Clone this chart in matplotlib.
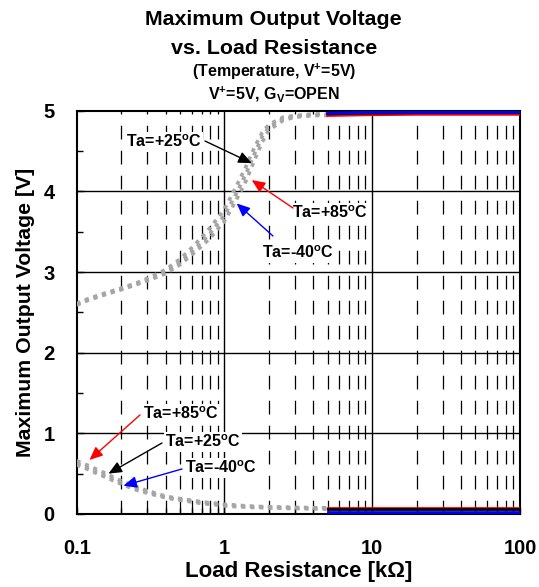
import matplotlib
matplotlib.use("Agg")
import matplotlib.pyplot as plt
from matplotlib.ticker import FixedLocator, NullFormatter

plt.rcParams['font.family'] = ['Liberation Sans', 'DejaVu Sans']
plt.rcParams['font.weight'] = 'bold'
plt.rcParams['mathtext.fontset'] = 'custom'
plt.rcParams['mathtext.rm'] = 'Liberation Sans:bold'
plt.rcParams['mathtext.it'] = 'Liberation Sans:bold'
plt.rcParams['mathtext.bf'] = 'Liberation Sans:bold'

# ---- data ----
# gray (dotted) measured region, 0.1k .. 5k
r_gray = [0.1, 0.12, 0.15, 0.2, 0.25, 0.3, 0.4, 0.5, 0.6, 0.7, 0.8, 0.9, 1.0,
          1.2, 1.4, 1.6, 1.8, 2.0, 2.5, 3.0, 4.0, 5.0]
voh_25 = [2.60, 2.66, 2.72, 2.79, 2.85, 2.90, 3.00, 3.12, 3.25, 3.37, 3.48, 3.60, 3.70,
          3.97, 4.22, 4.47, 4.68, 4.80, 4.90, 4.93, 4.95, 4.95]
voh_m40 = [2.61, 2.67, 2.73, 2.80, 2.86, 2.92, 3.03, 3.16, 3.30, 3.43, 3.55, 3.67, 3.78,
           4.06, 4.31, 4.55, 4.73, 4.83, 4.92, 4.94, 4.96, 4.96]
voh_85 = [2.59, 2.65, 2.71, 2.78, 2.84, 2.89, 2.98, 3.09, 3.21, 3.32, 3.42, 3.53, 3.63,
          3.89, 4.13, 4.39, 4.61, 4.76, 4.88, 4.92, 4.94, 4.94]
vol_25 = [0.63, 0.57, 0.49, 0.39, 0.32, 0.27, 0.21, 0.18, 0.16, 0.14, 0.13, 0.12, 0.11,
          0.10, 0.095, 0.09, 0.088, 0.085, 0.08, 0.077, 0.073, 0.07]
vol_m40 = [0.61, 0.55, 0.47, 0.37, 0.30, 0.26, 0.20, 0.17, 0.15, 0.13, 0.12, 0.11, 0.10,
           0.09, 0.085, 0.08, 0.078, 0.075, 0.07, 0.067, 0.063, 0.06]
vol_85 = [0.66, 0.60, 0.52, 0.41, 0.34, 0.29, 0.22, 0.19, 0.17, 0.15, 0.14, 0.13, 0.12,
          0.11, 0.10, 0.095, 0.092, 0.09, 0.085, 0.082, 0.078, 0.076]

# solid region 5k .. 100k
r_solid = [5, 7, 10, 20, 50, 100]
voh_25_s = [4.96, 4.965, 4.97, 4.975, 4.975, 4.975]
voh_m40_s = [4.97, 4.975, 4.98, 4.98, 4.98, 4.98]
voh_85_s = [4.94, 4.945, 4.95, 4.955, 4.955, 4.955]
vol_25_s = [0.06, 0.06, 0.06, 0.06, 0.06, 0.06]
vol_m40_s = [0.02, 0.02, 0.02, 0.02, 0.02, 0.02]
vol_85_s = [0.07, 0.07, 0.07, 0.07, 0.07, 0.07]

x_ticks = [0.1, 1, 10, 100]
x_tick_labels = ["0.1", "1", "10", "100"]
y_ticks = [0, 1, 2, 3, 4, 5]

fig = plt.figure(figsize=(5.39, 5.87), dpi=100)
ax = fig.add_axes([0.1423, 0.1244, 0.8224, 0.687])

# grid
minor_x = [m * d for d in (0.1, 1, 10) for m in range(2, 10)]
for xv in minor_x:
    ax.axvline(xv, color='black', lw=0.9, ls=(0, (11, 9)), zorder=1)
for xv in [1, 10]:
    ax.axvline(xv, color='black', lw=1.0, zorder=1)
for yv in y_ticks[1:-1]:
    ax.axhline(yv, color='black', lw=1.0, zorder=1)

gray = '#a6a6a6'
for ys in (voh_85, voh_25, voh_m40, vol_85, vol_25, vol_m40):
    ax.plot(r_gray, ys, color=gray, lw=2.6, ls=(0, (1.1, 1.4)), zorder=3)

ax.plot(r_solid, voh_85_s, color='red', lw=2, zorder=4)
ax.plot(r_solid, voh_25_s, color='black', lw=2, zorder=4)
ax.plot(r_solid, voh_m40_s, color='blue', lw=2, zorder=5)
ax.plot(r_solid, vol_85_s, color='red', lw=2, zorder=4)
ax.plot(r_solid, vol_25_s, color='black', lw=2, zorder=4)
ax.plot(r_solid, vol_m40_s, color='blue', lw=2, zorder=5)

ax.set_xscale('log')
ax.set_xlim(0.1, 100)
ax.set_ylim(0, 5)
ax.xaxis.set_major_locator(FixedLocator(x_ticks))
ax.set_xticklabels(x_tick_labels)
ax.xaxis.set_minor_locator(FixedLocator(minor_x))
ax.xaxis.set_minor_formatter(NullFormatter())
ax.yaxis.set_major_locator(FixedLocator(y_ticks))
ax.yaxis.set_minor_locator(FixedLocator([0.5, 1.5, 2.5, 3.5, 4.5]))
ax.tick_params(which='both', direction='in', width=1, labelsize=14.5)
ax.tick_params(which='major', length=5)
ax.tick_params(which='minor', length=4)
ax.tick_params(axis='x', which='major', pad=18)
ax.tick_params(axis='y', which='major', pad=16)
for lab in ax.get_xticklabels() + ax.get_yticklabels():
    lab.set_fontweight('bold')
for s in ax.spines.values():
    s.set_linewidth(1.5)

ax.set_xlabel('Load Resistance [k\u03a9]', fontsize=16, fontweight='bold', labelpad=2)
ax.set_ylabel('Maximum Output Voltage [V]', fontsize=15.3, fontweight='bold', labelpad=6)

fig.text(0.508, 0.966, 'Maximum Output Voltage', ha='center', va='center', fontsize=15.4, fontweight='bold')
fig.text(0.508, 0.918, 'vs. Load Resistance', ha='center', va='center', fontsize=15.4, fontweight='bold')
fig.text(0.508, 0.877, '(Temperature, V$^{+}$=5V)', ha='center', va='center', fontsize=11.5, fontweight='bold')
fig.text(0.508, 0.840, 'V$^{+}$=5V, G$_{V}$=OPEN', ha='center', va='center', fontsize=11.5, fontweight='bold')

# annotations (text positions in axes pixel-fraction, arrow tips on curves)
def ax_frac(px, py):
    x0, x1, y0, y1 = 76.7, 520.0, 514.0, 110.7
    return ((px - x0) / (x1 - x0), (y0 - py) / (y0 - y1))

deg = '$^{\\mathrm{o}}$'
notes = [
    ('Ta=+25' + deg + 'C', (164, 142), (205, 141), (1.53, 4.35), 'black'),
    ('Ta=+85' + deg + 'C', (330, 213), (293, 208), (1.53, 4.14), 'red'),
    ('Ta=-40' + deg + 'C', (298, 253), (273, 236), (1.21, 3.85), 'blue'),
    ('Ta=+85' + deg + 'C', (181, 414), (140, 415), (0.122, 0.67), 'red'),
    ('Ta=+25' + deg + 'C', (203, 442), (162, 443), (0.164, 0.50), 'black'),
    ('Ta=-40' + deg + 'C', (221, 468), (182, 469), (0.207, 0.35), 'blue'),
]
for txt, tpos, tail, tip, col in notes:
    ax.text(*ax_frac(*tpos), txt, transform=ax.transAxes, ha='center', va='center',
            fontsize=11.5, fontweight='bold', zorder=6,
            bbox=dict(boxstyle='square,pad=0.1', fc='white', ec='none'))
    ax.annotate('', xy=tip, xycoords='data', xytext=ax_frac(*tail), textcoords='axes fraction',
                arrowprops=dict(arrowstyle='-|>,head_length=0.8,head_width=0.35', color=col,
                                lw=1.0, shrinkA=0, shrinkB=0), zorder=6)

fig.savefig('out.png', dpi=100)
